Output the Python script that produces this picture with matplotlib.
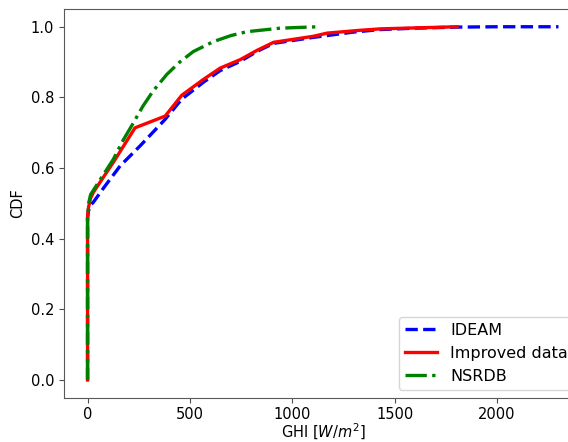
import matplotlib
matplotlib.use('Agg')
import matplotlib.pyplot as plt

# valores (GHI en W/m2, CDF)
ideam_ghi = [0, 0, 5, 15, 28, 80, 159, 257, 379, 460, 566, 648, 746, 827, 909, 1104, 1300, 1430, 1600, 1805, 2000, 2300]
ideam_cdf = [0, 0.46, 0.48, 0.495, 0.503, 0.545, 0.606, 0.663, 0.738, 0.795, 0.843, 0.876, 0.902, 0.930, 0.953, 0.970, 0.985, 0.992, 0.996, 0.999, 1.0, 1.0]

mejorado_ghi = [0, 0, 5, 15, 28, 130, 232, 379, 460, 566, 648, 746, 827, 909, 1103, 1170, 1332, 1430, 1805]
mejorado_cdf = [0, 0.46, 0.49, 0.515, 0.531, 0.62, 0.714, 0.747, 0.806, 0.851, 0.883, 0.907, 0.933, 0.956, 0.973, 0.982, 0.99, 0.994, 1.0]

nsrdb_ghi = [0, 0, 5, 15, 37, 126, 175, 224, 270, 320, 387, 450, 517, 615, 700, 778, 941, 1127]
nsrdb_cdf = [0, 0.46, 0.50, 0.525, 0.545, 0.625, 0.68, 0.728, 0.775, 0.818, 0.865, 0.90, 0.93, 0.958, 0.975, 0.986, 0.996, 1.0]

etiquetas = ['IDEAM', 'Improved data', 'NSRDB']


def generar_grafica():
    fig = plt.figure(figsize=(5.68, 4.42), dpi=100)
    # el eje se sale un poco por la derecha, como en la figura original recortada
    ax = fig.add_axes([0.1127, 0.099, 0.912, 0.881])

    ax.plot(ideam_ghi, ideam_cdf, '--', color='blue', lw=2.4, label=etiquetas[0])
    ax.plot(mejorado_ghi, mejorado_cdf, '-', color='red', lw=2.4, label=etiquetas[1])
    ax.plot(nsrdb_ghi, nsrdb_cdf, '-.', color='green', lw=2.4, label=etiquetas[2])

    ax.set_xlim(-115, 2415)
    ax.set_ylim(-0.0516, 1.0507)
    ax.set_xticks([0, 500, 1000, 1500, 2000])
    ax.set_yticks([0.0, 0.2, 0.4, 0.6, 0.8, 1.0])
    ax.tick_params(labelsize=10.5, color='0.3')
    ax.tick_params(axis='x', pad=3)
    for lado in ax.spines.values():
        lado.set_color('0.35')

    ax.set_xlabel('GHI [$W/m^2$]', fontsize=10.5, labelpad=0)
    ax.set_ylabel('CDF', fontsize=10.5)
    ax.legend(loc='lower right', fontsize=11.5)

    fig.savefig('out.png', dpi=100)
    plt.close('all')


if __name__ == '__main__':
    generar_grafica()
